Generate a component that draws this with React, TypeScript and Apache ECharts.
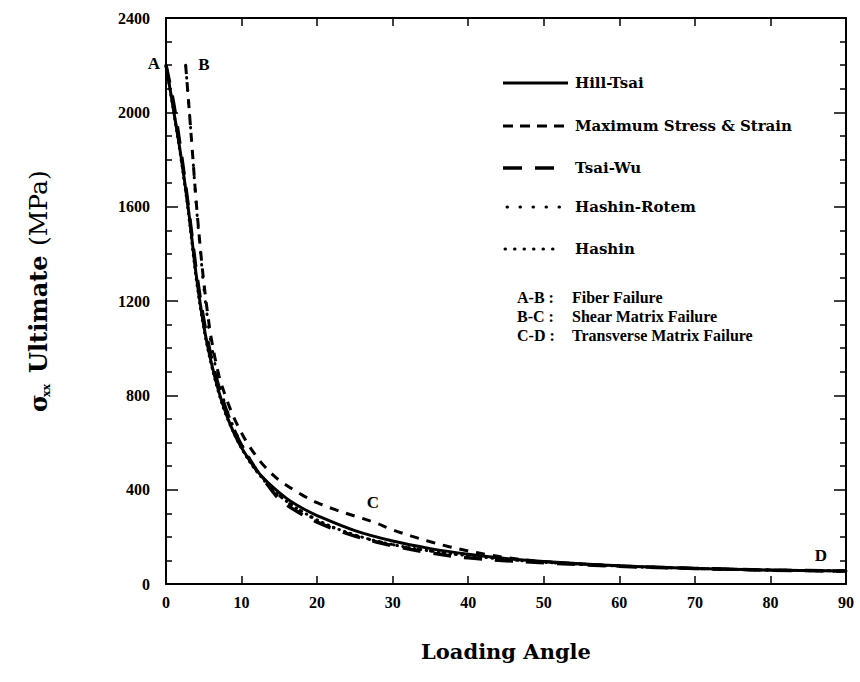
import React, { useEffect, useRef } from 'react';
import * as echarts from 'echarts';

// Loading angle (deg) and sigma_xx ultimate (MPa)
const hillTsaiX = [0, 1, 2, 3, 4, 5, 6, 7, 8, 9, 10, 12, 14, 16, 18, 20, 25, 30, 35, 40, 45, 50, 60, 70, 80, 90];
const hillTsaiY = [2200, 2010, 1810, 1580, 1310, 1095, 938, 815, 718, 640, 578, 482, 415, 362, 322, 290, 226, 182, 150, 126, 108, 95, 77, 66, 59, 55];

const maxStressX = [2.6, 3, 3.5, 4, 4.5, 5, 5.5, 6, 7, 8, 9, 10, 11, 12, 13, 15, 18, 20, 22.5, 25, 27.5, 30, 32.5, 35, 37.5, 40, 42.5, 45, 50, 60, 70, 80, 90];
const maxStressY = [2200, 2040, 1830, 1620, 1440, 1280, 1150, 1040, 885, 785, 705, 640, 585, 540, 500, 440, 378, 345, 314, 288, 262, 230, 203, 179, 158, 140, 125, 112, 95, 77, 66, 59, 55];

const tsaiWuX = [0, 1, 2, 3, 4, 5, 6, 7, 8, 9, 10, 12, 13, 15, 18, 20, 22, 25, 28, 30, 33, 35, 38, 40, 45, 50, 60, 70, 80, 90];
const tsaiWuY = [2200, 2040, 1830, 1590, 1330, 1120, 960, 835, 735, 655, 588, 482, 440, 360, 295, 262, 236, 203, 177, 162, 143, 132, 118, 111, 99, 90, 75, 66, 59, 55];

const hashinRotemX = [2.6, 3, 3.5, 4, 4.5, 5, 5.5, 6, 7, 8, 9, 10, 12, 15, 20, 25, 30, 35, 40, 45, 50, 60, 70, 80, 90];
const hashinRotemY = [2200, 2040, 1830, 1610, 1430, 1260, 1125, 1015, 855, 745, 660, 592, 485, 375, 270, 207, 167, 140, 120, 105, 92, 76, 66, 59, 55];

const hashinX = [0, 1, 2, 3, 4, 5, 6, 7, 8, 10, 12, 15, 20, 25, 30, 35, 40, 45, 50, 60, 70, 80, 90];
const hashinY = [2200, 2005, 1800, 1565, 1295, 1085, 930, 808, 712, 575, 478, 374, 272, 208, 167, 140, 120, 105, 92, 76, 66, 59, 55];

const seriesNames = ['Hill-Tsai', 'Maximum Stress & Strain', 'Tsai-Wu', 'Hashin-Rotem', 'Hashin'];
const failureKeys = ['A-B :', 'B-C :', 'C-D :'];
const failureTexts = ['Fiber Failure', 'Shear Matrix Failure', 'Transverse Matrix Failure'];
const pointLabels = ['A', 'B', 'C', 'D'];

const zip = (xs: number[], ys: number[]) => xs.map((x, i) => [x, ys[i]]);

export default function App() {
  const ref = useRef<HTMLDivElement>(null);
  useEffect(() => {
    const chart = echarts.init(ref.current!, null, { renderer: 'svg' });
    const black = '#000';
    const tickFont = { color: black, fontFamily: 'Liberation Serif', fontWeight: 'bold' as const, fontSize: 16 };
    const axisLine = { show: true, onZero: false, lineStyle: { color: black, width: 2 } };

    // dash pattern, width, cap for each series (same order as seriesNames)
    const styles: any[] = [
      { type: 'solid', dash: null, width: 3, cap: 'butt' },
      { type: [9, 8], dash: [10, 7], width: 3, cap: 'butt' },
      { type: [18, 13], dash: [19, 13], width: 3.5, cap: 'butt' },
      { type: [0.5, 12], dash: [0.5, 12.5], width: 3, cap: 'round' },
      { type: [0.5, 5.5], dash: [0.5, 9], width: 3, cap: 'round' },
    ];
    const legendSpan = [
      [503, 568], [503, 568], [503, 560], [507, 560], [505, 562],
    ];
    const legendRowY = [83, 126, 168, 207, 249];
    const failureRowY = [297, 316, 335];

    const mkLine = (idx: number, data: number[][], z: number) => ({
      name: seriesNames[idx],
      type: 'line',
      data,
      showSymbol: false,
      symbol: 'none',
      smooth: 0.35,
      z,
      lineStyle: { color: black, width: styles[idx].width, type: styles[idx].type, cap: styles[idx].cap },
      itemStyle: { color: black },
    });

    const labelPos = [
      [154, 63],
      [204, 64],
      [373, 502],
      [821, 555],
    ];

    const option: any = {
      animation: false,
      backgroundColor: '#fff',
      grid: { left: 166, top: 18, width: 680, height: 566, containLabel: false },
      xAxis: [
        {
          type: 'value', min: 0, max: 90, interval: 10, position: 'bottom',
          axisLine, axisTick: { inside: true, length: 8, lineStyle: { color: black, width: 1.5 } },
          axisLabel: { ...tickFont, margin: 10 },
          splitLine: { show: false },
          name: 'Loading Angle', nameLocation: 'middle', nameGap: 57,
          nameTextStyle: { color: black, fontFamily: 'DejaVu Serif', fontWeight: 'bold', fontSize: 21 },
        },
        {
          type: 'value', min: 0, max: 90, interval: 10, position: 'top',
          axisLine, axisTick: { inside: true, length: 8, lineStyle: { color: black, width: 1.5 } },
          axisLabel: { show: false }, splitLine: { show: false },
        },
      ],
      yAxis: [
        {
          type: 'value', min: 0, max: 2400, interval: 400, position: 'left',
          axisLine, axisTick: { inside: true, length: 12, lineStyle: { color: black, width: 1.5 } },
          minorTick: { show: true, splitNumber: 4, length: 6, lineStyle: { color: black, width: 1.5 } },
          axisLabel: { ...tickFont, margin: 16, formatter: (v: number) => String(v) },
          splitLine: { show: false }, minorSplitLine: { show: false },
        },
        {
          type: 'value', min: 0, max: 2400, interval: 400, position: 'right',
          axisLine, axisTick: { inside: true, length: 12, lineStyle: { color: black, width: 1.5 } },
          minorTick: { show: true, splitNumber: 4, length: 6, lineStyle: { color: black, width: 1.5 } },
          axisLabel: { show: false },
          splitLine: { show: false }, minorSplitLine: { show: false },
        },
      ],
      series: [
        mkLine(4, zip(hashinX, hashinY), 2),
        mkLine(3, zip(hashinRotemX, hashinRotemY), 3),
        mkLine(2, zip(tsaiWuX, tsaiWuY), 4),
        mkLine(1, zip(maxStressX, maxStressY), 5),
        mkLine(0, zip(hillTsaiX, hillTsaiY), 6),
      ],
      graphic: [
        {
          type: 'group', x: 38, y: 412, rotation: Math.PI / 2,
          children: [
            { type: 'text', x: 0, y: 0, style: { text: 'σ', font: 'bold 24px "DejaVu Serif"', fill: black, verticalAlign: 'middle' } },
            { type: 'text', x: 15, y: 8, style: { text: 'xx', font: 'bold 11px "DejaVu Serif"', fill: black, verticalAlign: 'middle' } },
            { type: 'text', x: 39, y: 0, style: { text: 'Ultimate', font: 'bold 24px "DejaVu Serif"', fill: black, verticalAlign: 'middle' } },
            { type: 'text', x: 166, y: 0, style: { text: '(MPa)', font: '25px "DejaVu Serif"', fill: black, verticalAlign: 'middle' } },
          ],
        },
        // legend samples and names
        ...seriesNames.map((n, i) => ({
          type: 'line',
          shape: { x1: legendSpan[i][0], y1: legendRowY[i], x2: legendSpan[i][1], y2: legendRowY[i] },
          style: { stroke: black, lineWidth: styles[i].width, lineDash: styles[i].dash, lineCap: styles[i].cap },
        })),
        ...seriesNames.map((n, i) => ({
          type: 'text', x: 575, y: legendRowY[i],
          style: { text: n, font: 'bold 15px "DejaVu Serif"', fill: black, verticalAlign: 'middle' },
        })),
        ...failureKeys.map((k, i) => ({
          type: 'text', x: 517, y: failureRowY[i],
          style: { text: k, font: 'bold 16px "Liberation Serif"', fill: black, verticalAlign: 'middle' },
        })),
        ...failureTexts.map((t, i) => ({
          type: 'text', x: 572, y: failureRowY[i],
          style: { text: t, font: 'bold 16px "Liberation Serif"', fill: black, verticalAlign: 'middle' },
        })),
        ...pointLabels.map((t, i) => ({
          type: 'text', x: labelPos[i][0], y: labelPos[i][1],
          style: { text: t, font: 'bold 17px "Liberation Serif"', fill: black, align: 'center', verticalAlign: 'middle' },
        })),
      ],
    };
    chart.setOption(option);
    return () => chart.dispose();
  }, []);
  return <div ref={ref} style={{ position: 'fixed', left: 0, top: 0, width: 860, height: 682, background: '#fff' }} />;
}
